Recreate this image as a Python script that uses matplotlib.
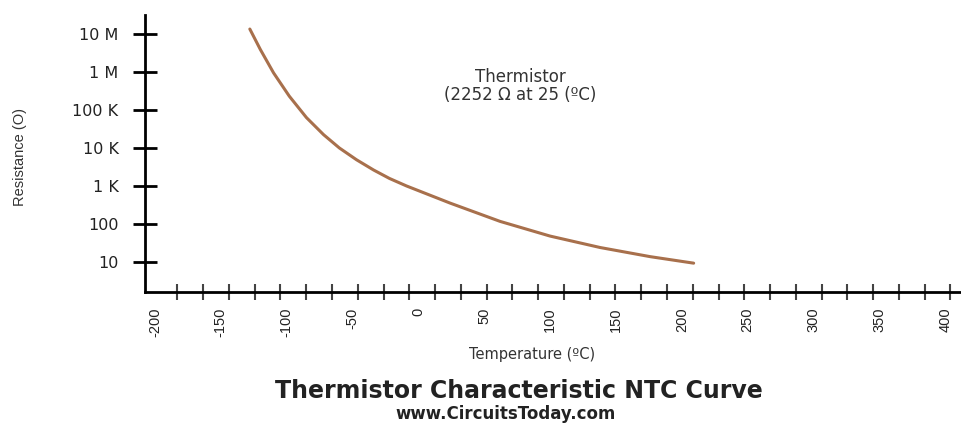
import matplotlib
matplotlib.use("Agg")
import matplotlib.pyplot as plt
import numpy as np
from matplotlib.ticker import FixedLocator, NullLocator

# NTC curve
temperature = [-128, -120, -110, -98, -85, -72, -60, -47, -34, -22, -9,
               24, 62, 100, 138, 176, 209]
resistance = [1.35e7, 3.9e6, 9.5e5, 2.3e5, 6.3e4, 2.24e4, 1.0e4, 4900, 2630,
              1580, 1000, 355, 117, 48, 24, 13.8, 9.3]

x_labels = [-200, -150, -100, -50, 0, 50, 100, 150, 200, 250, 300, 350, 400]
y_ticks = [10, 100, 1e3, 1e4, 1e5, 1e6, 1e7]
y_labels = ["10", "100", "1 K", "10 K", "100 K", "1 M", "10 M"]

W, H = 961, 426
fig = plt.figure(figsize=(W / 100, H / 100), dpi=100)
ax = fig.add_axes([145 / W, (H - 292) / H, (W - 145) / W, (292 - 15) / H])

ax.plot(temperature, resistance, color="#a8704c", lw=2.2, solid_capstyle="round",
        solid_joinstyle="round")

ax.set_yscale("log")
ax.set_ylim(1.62, 10 ** 7.5)
ax.set_xlim(-207.6, 412)

for s in ["top", "right"]:
    ax.spines[s].set_visible(False)
for s in ["left", "bottom"]:
    ax.spines[s].set_linewidth(2.0)
    ax.spines[s].set_color("black")

ax.yaxis.set_major_locator(FixedLocator(y_ticks))
ax.yaxis.set_minor_locator(NullLocator())
ax.set_yticklabels(y_labels)
ax.tick_params(axis="y", which="major", direction="inout", length=17, width=2,
               color="black", pad=10.5, labelsize=11.5, labelcolor="#222")
for t in ax.get_yticklabels():
    t.set_family("DejaVu Sans")

ax.xaxis.set_major_locator(FixedLocator(x_labels))
ax.set_xticklabels([str(v) for v in x_labels], rotation=90)
ax.xaxis.set_minor_locator(FixedLocator(np.linspace(-183, 404, 31)))
ax.tick_params(axis="x", which="major", length=0, pad=11, labelsize=10.5,
               labelcolor="#222")
ax.tick_params(axis="x", which="minor", direction="inout", length=12, width=1.5,
               color="#444")
for t in ax.get_xticklabels():
    t.set_family("Liberation Sans")

fig.text(20 / W, 1 - 157 / H, "Resistance (O)", rotation=90, ha="center",
         va="center", fontsize=10.5, family="Liberation Sans", color="#333")
fig.text(532 / W, 1 - 355 / H, "Temperature (ºC)", ha="center", va="center",
         fontsize=10.5, family="DejaVu Sans", color="#333")
fig.text(520 / W, 1 - 86 / H, "Thermistor\n(2252 Ω at 25 (ºC)", ha="center",
         va="center", fontsize=12, family="DejaVu Sans", color="#333",
         linespacing=1.05)

fig.text(519 / W, 1 - 391 / H, "Thermistor Characteristic NTC Curve",
         ha="center", va="center", fontsize=17, fontweight="bold",
         family="DejaVu Sans", color="#222")
fig.text(506 / W, 1 - 414 / H, "www.CircuitsToday.com", ha="center",
         va="center", fontsize=12, fontweight="bold", family="DejaVu Sans",
         color="#222")

fig.savefig("out.png", dpi=100)
